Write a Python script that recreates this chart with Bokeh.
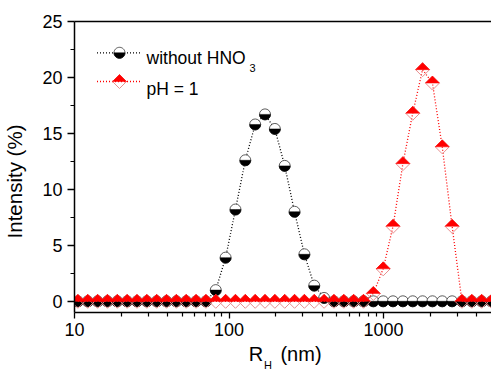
import numpy as np
from bokeh.plotting import figure
from bokeh.models import (Range1d, FixedTicker, LogAxis, LinearAxis, Label, Arrow,
                          PolyAnnotation, ColumnDataSource)
from bokeh.embed import file_html
from bokeh.resources import INLINE

# ---------------- data ----------------
r_h = [10.52, 12.18, 14.11, 16.34, 18.92, 21.91, 25.37, 29.38, 34.03, 39.41,
       45.64, 52.85, 61.21, 70.89, 82.10, 95.07, 110.1, 127.5, 147.7, 171.0,
       198.1, 229.4, 265.6, 307.6, 356.2, 412.6, 477.8, 553.3, 640.8, 742.1,
       859.4, 995.1, 1152, 1335, 1546, 1790, 2073, 2400, 2780, 3219,
       3728, 4317, 5000]
intensity_no_hno3 = [0, 0, 0, 0, 0, 0, 0, 0, 0, 0,
                     0, 0, 0, 0, 1.0, 3.9, 8.2, 12.6, 15.8, 16.7,
                     15.4, 12.1, 8.0, 4.2, 1.4, 0.3, 0, 0, 0, 0,
                     0, 0, 0, 0, 0, 0, 0, 0, 0, 0,
                     0, 0, 0]
intensity_ph1 = [0, 0, 0, 0, 0, 0, 0, 0, 0, 0,
                 0, 0, 0, 0, 0, 0, 0, 0, 0, 0,
                 0, 0, 0, 0, 0, 0, 0, 0, 0, 0,
                 0.7, 2.9, 6.7, 12.3, 16.8, 20.7, 19.5, 13.8, 6.7, 0,
                 0, 0, 0]
x_ticks = [10, 100, 1000]
x_tick_labels = ["10", "100", "1000"]
x_minor_ticks = [20, 30, 40, 50, 60, 70, 80, 90,
                 200, 300, 400, 500, 600, 700, 800, 900,
                 2000, 3000, 4000]
y_ticks = [0, 5, 10, 15, 20, 25]
y_minor_ticks = [2.5, 7.5, 12.5, 17.5, 22.5]
series_labels = ["without HNO", "pH = 1"]
x_title = ["R", "H", "(nm)"]
y_title = "Intensity (%)"

# ---------------- layout ----------------
X0, X1, Y0, Y1 = 10, 5000, -1, 25
LEFT, TOP, BOTTOM = 74, 21, 61
W, H = 491, 373
FRAME_W, FRAME_H = W - LEFT, H - TOP - BOTTOM
FONT = "Liberation Sans"
PINK = "#e89090"
RED = "#ff0000"
DASH = "1 2"
ppd = FRAME_W / np.log10(X1 / X0)
ppu = FRAME_H / (Y1 - Y0)

def px_to_x(px):
    return round(float(10 ** (np.log10(X0) + (px - LEFT) / ppd)), 3)

def py_to_y(py):
    return round(float(Y1 - (py - TOP) / ppu), 3)

p = figure(width=W, height=H, x_axis_type="log",
           x_range=Range1d(X0, X1), y_range=Range1d(Y0, Y1),
           output_backend="svg", toolbar_location=None,
           min_border_left=LEFT, min_border_right=0,
           min_border_top=TOP, min_border_bottom=BOTTOM)
p.outline_line_color = None
p.xgrid.visible = False
p.ygrid.visible = False
p.background_fill_color = "white"
p.border_fill_color = "white"

xa = p.below[0]
xa.ticker = FixedTicker(ticks=x_ticks, minor_ticks=x_minor_ticks)
xa.major_label_overrides = dict(zip(x_ticks, x_tick_labels))
ya = p.left[0]
ya.ticker = FixedTicker(ticks=y_ticks, minor_ticks=y_minor_ticks)

for ax, mj, mn in ((xa, 6, 4), (ya, 7, 4)):
    ax.axis_line_width = 1.5
    ax.axis_line_color = "black"
    ax.major_tick_line_width = 1.3
    ax.minor_tick_line_width = 1.2
    ax.major_tick_line_color = "black"
    ax.minor_tick_line_color = "black"
    ax.major_tick_in = 0
    ax.major_tick_out = mj
    ax.minor_tick_in = 0
    ax.minor_tick_out = mn
    ax.major_label_text_font = FONT
    ax.major_label_text_font_size = "18px"
    ax.major_label_text_color = "black"
xa.major_label_standoff = 4
ya.major_label_standoff = 5

top = LogAxis(ticker=FixedTicker(ticks=[]), major_tick_in=0, major_tick_out=0,
              minor_tick_in=0, minor_tick_out=0,
              major_label_text_font_size="0px", major_label_standoff=0,
              axis_line_width=1.5, axis_line_color="black")
p.add_layout(top, "above")

def title_axis(cls, ticks, labels, size, standoff, **kw):
    ax = cls(ticker=FixedTicker(ticks=ticks, minor_ticks=[]),
             major_label_overrides=dict(zip(ticks, labels)),
             axis_line_color=None, major_tick_line_color=None, minor_tick_line_color=None,
             major_tick_in=0, major_tick_out=0, minor_tick_in=0, minor_tick_out=0,
             major_label_text_font=FONT, major_label_text_font_size=size,
             major_label_text_color="black", major_label_standoff=standoff, **kw)
    return ax

# x title: "R" and "(nm)" on one row, subscript "H" on a lower row
xr_ticks = [px_to_x(255.5), px_to_x(300.5)]
p.add_layout(title_axis(LogAxis, xr_ticks, [x_title[0], x_title[2]], "20px", 4), "below")
p.add_layout(title_axis(LogAxis, [px_to_x(267.5)], [x_title[1]], "11px", -9), "below")
# y title
p.add_layout(title_axis(LinearAxis, [py_to_y(181)], [y_title], "20.5px", 13,
                        major_label_orientation="parallel"), "left")

# ---------------- series ----------------
src_a = ColumnDataSource(dict(x=r_h, y=intensity_no_hno3))
p.line("x", "y", source=src_a, line_color="black", line_width=1.3, line_dash=DASH)
p.scatter("x", "y", source=src_a, marker="circle", size=11,
          fill_color="white", line_color="#333333", line_width=0.8)
p.wedge("x", "y", source=src_a, radius=5.5, radius_units="screen",
        start_angle=np.pi, end_angle=2 * np.pi,
        fill_color="black", line_color="black", line_width=0.5)

HALF = 7.0
f = 10 ** (HALF / ppd)
dy = HALF / ppu
src_b = ColumnDataSource(dict(
    x=r_h, y=intensity_ph1,
    txs=[[x / f, x * f, x] for x in r_h],
    tys=[[y, y, y + dy] for y in intensity_ph1]))
p.line("x", "y", source=src_b, line_color=RED, line_width=1.3, line_dash=DASH)
p.scatter("x", "y", source=src_b, marker="square", angle=np.pi / 4,
          size=HALF * np.sqrt(2), fill_color=None, line_color=PINK, line_width=1)
p.patches("txs", "tys", source=src_b, fill_color=RED, line_color=RED, line_width=0.5)

# ---------------- legend (manual, frame-relative screen units) ----------------
def leg_line(y, color):
    p.add_layout(Arrow(end=None, start=None, x_start=22.5, y_start=y, x_end=65.5, y_end=y,
                       start_units="screen", end_units="screen",
                       line_color=color, line_width=1.3, line_dash=DASH))

r1, r2 = 259.7, 231.0
cx = 45.0
leg_line(r1, "black")
t = np.linspace(0, 2 * np.pi, 40)
p.add_layout(PolyAnnotation(xs=list(cx + 5.5 * np.cos(t)), ys=list(r1 + 5.5 * np.sin(t)),
                            xs_units="screen", ys_units="screen",
                            fill_color="white", fill_alpha=1,
                            line_color="#333333", line_alpha=1, line_width=0.8))
th = np.linspace(np.pi, 2 * np.pi, 20)
p.add_layout(PolyAnnotation(xs=list(cx + 5.5 * np.cos(th)), ys=list(r1 + 5.5 * np.sin(th)),
                            xs_units="screen", ys_units="screen",
                            fill_color="black", fill_alpha=1,
                            line_color="black", line_alpha=1, line_width=0.5))
leg_line(r2, RED)
p.add_layout(PolyAnnotation(xs=[cx - HALF, cx, cx + HALF, cx], ys=[r2, r2 - HALF, r2, r2 + HALF],
                            xs_units="screen", ys_units="screen",
                            fill_alpha=0, line_color=PINK, line_alpha=1, line_width=1))
p.add_layout(PolyAnnotation(xs=[cx - HALF, cx + HALF, cx], ys=[r2, r2, r2 + HALF],
                            xs_units="screen", ys_units="screen",
                            fill_color=RED, fill_alpha=1, line_color=RED, line_alpha=1,
                            line_width=0.5))

def lab(x, y, text, size):
    p.add_layout(Label(x=x, y=y, x_units="screen", y_units="screen", text=text,
                       text_font=FONT, text_font_size=size, text_color="black",
                       text_baseline="alphabetic"))

lab(72, 254.4, series_labels[0], "17.5px")
lab(175, 244.5, "3", "11px")
lab(72, 223.5, series_labels[1], "17.5px")

open("out.html", "w").write(file_html(p, INLINE))
